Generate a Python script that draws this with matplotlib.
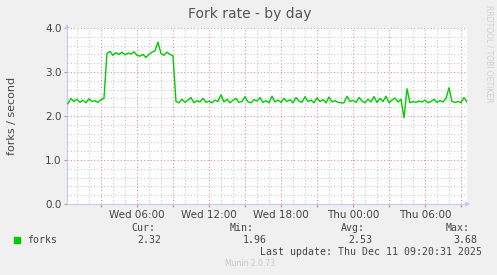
import numpy as np
from matplotlib import pyplot as plt
from matplotlib.ticker import MultipleLocator

# fork rate, one sample every 15 minutes, starting Wed 00:15
low_start = [2.28, 2.40, 2.33, 2.38, 2.31, 2.36, 2.30, 2.39, 2.33, 2.35, 2.31, 2.37, 2.40]
high_part = [3.42, 3.47, 3.38, 3.44, 3.40, 3.45, 3.39, 3.43, 3.41, 3.46, 3.38, 3.36,
             3.40, 3.33, 3.40, 3.45, 3.48, 3.68, 3.42, 3.38, 3.45, 3.40, 3.37]
low_end = [2.33, 2.30, 2.38, 2.31, 2.36, 2.42, 2.30, 2.35, 2.32, 2.40, 2.31, 2.34, 2.30, 2.36, 2.33, 2.48,
           2.32, 2.38, 2.30, 2.36, 2.40, 2.31, 2.33, 2.44, 2.32, 2.30, 2.37, 2.34, 2.42, 2.31, 2.35, 2.30,
           2.45, 2.32, 2.36, 2.31, 2.40, 2.33, 2.37, 2.30, 2.42, 2.34, 2.31, 2.44, 2.33, 2.36, 2.30, 2.41,
           2.33, 2.37, 2.30, 2.43, 2.32, 2.35, 2.31, 2.30, 2.30, 2.45, 2.33, 2.36, 2.31, 2.42, 2.34, 2.30,
           2.38, 2.32, 2.44, 2.31, 2.40, 2.33, 2.45, 2.30, 2.36, 2.41, 2.32, 2.38, 1.96, 2.62, 2.30, 2.33,
           2.31, 2.34, 2.32, 2.36, 2.30, 2.33, 2.38, 2.31, 2.35, 2.32, 2.40, 2.64, 2.33, 2.31, 2.33, 2.30,
           2.42, 2.32]
forks = np.array(low_start + high_part + low_end)
hours = 0.25 + 0.25 * np.arange(len(forks))  # hours since Wed 00:00

tick_hours = [6, 12, 18, 24, 30]
tick_labels = ["Wed 06:00", "Wed 12:00", "Wed 18:00", "Thu 00:00", "Thu 06:00"]

bg = '#F0F0F0'
fig = plt.figure(figsize=(4.97, 2.75), dpi=100, facecolor=bg)
ax = fig.add_axes([67 / 497, 71 / 275, 400 / 497, 176 / 275], facecolor='white')

ax.plot(hours, forks, color='#00CC00', lw=1.0, zorder=3)

ax.set_xlim(0.17, 33.5)
ax.set_ylim(0, 4.0)

# grid: hourly minor, 3-hourly major
ax.xaxis.set_major_locator(MultipleLocator(3))
ax.xaxis.set_minor_locator(MultipleLocator(1))
ax.yaxis.set_major_locator(MultipleLocator(1))
ax.yaxis.set_minor_locator(MultipleLocator(0.2))
ax.grid(which='minor', color='#C8C8C8', ls=(0, (1, 2)), lw=0.8)
ax.grid(which='major', color='#E09090', ls=(0, (1, 2)), lw=0.8)
ax.set_axisbelow(True)

majors = np.arange(3, 34, 3)
ax.set_xticks(majors)
ax.set_xticklabels([tick_labels[tick_hours.index(h)] if h in tick_hours else "" for h in majors])
ax.set_yticks([0, 1, 2, 3, 4])
ax.set_yticklabels(["0.0", "1.0", "2.0", "3.0", "4.0"])
ax.tick_params(which='major', axis='x', length=2, color='#E08080', labelsize=7.5,
               labelcolor='#444444', pad=2)
ax.tick_params(which='major', axis='y', length=2, color='#E08080', labelsize=7.5,
               labelcolor='#444444', pad=2)
ax.tick_params(which='minor', length=0)

for s in ['top', 'right']:
    ax.spines[s].set_visible(False)
for s in ['left', 'bottom']:
    ax.spines[s].set_color('#C8C8F0')
    ax.spines[s].set_linewidth(0.8)

# axis arrows
ax.annotate('', xy=(0, 1.04), xytext=(0, 0.99), xycoords='axes fraction',
            arrowprops=dict(arrowstyle='-|>', color='#C8C8F0', lw=0.8, mutation_scale=6),
            annotation_clip=False)
ax.annotate('', xy=(1.015, 0), xytext=(0.99, 0), xycoords='axes fraction',
            arrowprops=dict(arrowstyle='-|>', color='#C8C8F0', lw=0.8, mutation_scale=6),
            annotation_clip=False)

fig.text(250 / 497, 1 - 14 / 275, "Fork rate - by day", ha='center', va='center',
         fontsize=10, color='#555555')
fig.text(12 / 497, 1 - 116 / 275, "forks / second", rotation=90, ha='center', va='center',
         fontsize=8, color='#444444')
fig.text(489 / 497, 1 - 5 / 275, "RRDTOOL / TOBI OETIKER", rotation=270, ha='center', va='top',
         fontsize=5.5, color='#D0D0D0')

mono = 'DejaVu Sans Mono'
fs = 7.1
tc = '#444444'
fig.patches.append(plt.Rectangle((14 / 497, 1 - 243 / 275), 6 / 497, 6 / 275,
                                 transform=fig.transFigure, color='#00CC00', figure=fig))
fig.text(27 / 497, 1 - 240 / 275, "forks", fontfamily=mono, fontsize=fs, color=tc, va='center')

stats = [("Cur:", forks[-1], 155, 161), ("Min:", forks.min(), 254, 267),
         ("Avg:", forks.mean(), 365, 372), ("Max:", forks.max(), 470, 477)]
for name, val, xn, xv in stats:
    fig.text(xn / 497, 1 - 228 / 275, name, fontfamily=mono, fontsize=fs, color=tc,
             ha='right', va='center')
    fig.text(xv / 497, 1 - 240 / 275, "%.2f" % val, fontfamily=mono, fontsize=fs, color=tc,
             ha='right', va='center')

fig.text(482 / 497, 1 - 252 / 275, "Last update: Thu Dec 11 09:20:31 2025", fontfamily=mono,
         fontsize=fs, color=tc, ha='right', va='center')
fig.text(250 / 497, 1 - 264 / 275, "Munin 2.0.73", ha='center', va='center',
         fontsize=5.5, color='#C8C8C8')

fig.savefig('out.png', dpi=100, facecolor=bg)
